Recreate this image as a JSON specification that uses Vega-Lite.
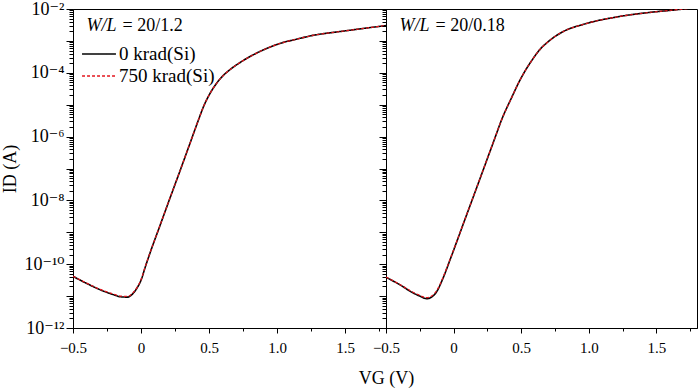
{
  "$schema": "https://vega.github.io/schema/vega-lite/v6.json",
  "padding": {"left": 1, "right": 2, "top": -1, "bottom": 0},
  "spacing": 0,
  "bounds": "flush",
  "config": {
    "font": "'Liberation Serif', 'Times New Roman', 'DejaVu Serif', serif",
    "view": {"stroke": "black", "strokeWidth": 1},
    "axis": {"domainColor": "black", "tickColor": "black", "labelColor": "black", "titleColor": "black", "labelFont": "'Liberation Serif', 'Times New Roman', 'DejaVu Serif', serif", "titleFont": "'Liberation Serif', 'Times New Roman', 'DejaVu Serif', serif", "grid": false, "labelFontSize": 15, "titleFontSize": 18, "titleFontWeight": "normal", "labelOverlap": false, "labelBound": false, "labelFlush": false},
    "legend": {"labelFont": "'Liberation Serif', 'Times New Roman', 'DejaVu Serif', serif", "labelFontSize": 19, "labelColor": "black"}
  },
  "resolve": {"scale": {"color": "shared", "strokeDash": "shared"}},
  "datasets": {
    "curves": [
      {"panel": "A", "series": "0 krad(Si)", "V": -0.5, "I": 4.17e-11},
      {"panel": "A", "series": "0 krad(Si)", "V": -0.4, "I": 2.5e-11},
      {"panel": "A", "series": "0 krad(Si)", "V": -0.3, "I": 1.58e-11},
      {"panel": "A", "series": "0 krad(Si)", "V": -0.2, "I": 1.1e-11},
      {"panel": "A", "series": "0 krad(Si)", "V": -0.15, "I": 9.5e-12},
      {"panel": "A", "series": "0 krad(Si)", "V": -0.1, "I": 9.3e-12},
      {"panel": "A", "series": "0 krad(Si)", "V": -0.06, "I": 1.2e-11},
      {"panel": "A", "series": "0 krad(Si)", "V": -0.03, "I": 1.78e-11},
      {"panel": "A", "series": "0 krad(Si)", "V": 0.0, "I": 3.16e-11},
      {"panel": "A", "series": "0 krad(Si)", "V": 0.03, "I": 7.9e-11},
      {"panel": "A", "series": "0 krad(Si)", "V": 0.06, "I": 1.9e-10},
      {"panel": "A", "series": "0 krad(Si)", "V": 0.14, "I": 1.66e-9},
      {"panel": "A", "series": "0 krad(Si)", "V": 0.21, "I": 1.1e-8},
      {"panel": "A", "series": "0 krad(Si)", "V": 0.28, "I": 7.1e-8},
      {"panel": "A", "series": "0 krad(Si)", "V": 0.36, "I": 6.2e-7},
      {"panel": "A", "series": "0 krad(Si)", "V": 0.42, "I": 3.16e-6},
      {"panel": "A", "series": "0 krad(Si)", "V": 0.46, "I": 8.9e-6},
      {"panel": "A", "series": "0 krad(Si)", "V": 0.5, "I": 2.0e-5},
      {"panel": "A", "series": "0 krad(Si)", "V": 0.55, "I": 4.37e-5},
      {"panel": "A", "series": "0 krad(Si)", "V": 0.6, "I": 7.9e-5},
      {"panel": "A", "series": "0 krad(Si)", "V": 0.66, "I": 1.32e-4},
      {"panel": "A", "series": "0 krad(Si)", "V": 0.72, "I": 2.0e-4},
      {"panel": "A", "series": "0 krad(Si)", "V": 0.78, "I": 2.88e-4},
      {"panel": "A", "series": "0 krad(Si)", "V": 0.9, "I": 5.25e-4},
      {"panel": "A", "series": "0 krad(Si)", "V": 1.02, "I": 8.3e-4},
      {"panel": "A", "series": "0 krad(Si)", "V": 1.15, "I": 1.15e-3},
      {"panel": "A", "series": "0 krad(Si)", "V": 1.27, "I": 1.51e-3},
      {"panel": "A", "series": "0 krad(Si)", "V": 1.4, "I": 1.82e-3},
      {"panel": "A", "series": "0 krad(Si)", "V": 1.51, "I": 2.09e-3},
      {"panel": "A", "series": "0 krad(Si)", "V": 1.65, "I": 2.51e-3},
      {"panel": "A", "series": "0 krad(Si)", "V": 1.8, "I": 3.02e-3},
      {"panel": "A", "series": "750 krad(Si)", "V": -0.5, "I": 4.2e-11},
      {"panel": "A", "series": "750 krad(Si)", "V": -0.4, "I": 2.55e-11},
      {"panel": "A", "series": "750 krad(Si)", "V": -0.3, "I": 1.62e-11},
      {"panel": "A", "series": "750 krad(Si)", "V": -0.2, "I": 1.15e-11},
      {"panel": "A", "series": "750 krad(Si)", "V": -0.15, "I": 1.0e-11},
      {"panel": "A", "series": "750 krad(Si)", "V": -0.1, "I": 9.8e-12},
      {"panel": "A", "series": "750 krad(Si)", "V": -0.06, "I": 1.25e-11},
      {"panel": "A", "series": "750 krad(Si)", "V": -0.03, "I": 1.85e-11},
      {"panel": "A", "series": "750 krad(Si)", "V": 0.0, "I": 3.25e-11},
      {"panel": "A", "series": "750 krad(Si)", "V": 0.03, "I": 8.1e-11},
      {"panel": "A", "series": "750 krad(Si)", "V": 0.06, "I": 1.93e-10},
      {"panel": "A", "series": "750 krad(Si)", "V": 0.14, "I": 1.68e-9},
      {"panel": "A", "series": "750 krad(Si)", "V": 0.21, "I": 1.11e-8},
      {"panel": "A", "series": "750 krad(Si)", "V": 0.28, "I": 7.15e-8},
      {"panel": "A", "series": "750 krad(Si)", "V": 0.36, "I": 6.2e-7},
      {"panel": "A", "series": "750 krad(Si)", "V": 0.42, "I": 3.16e-6},
      {"panel": "A", "series": "750 krad(Si)", "V": 0.46, "I": 8.9e-6},
      {"panel": "A", "series": "750 krad(Si)", "V": 0.5, "I": 2.0e-5},
      {"panel": "A", "series": "750 krad(Si)", "V": 0.55, "I": 4.37e-5},
      {"panel": "A", "series": "750 krad(Si)", "V": 0.6, "I": 7.9e-5},
      {"panel": "A", "series": "750 krad(Si)", "V": 0.66, "I": 1.32e-4},
      {"panel": "A", "series": "750 krad(Si)", "V": 0.72, "I": 2.0e-4},
      {"panel": "A", "series": "750 krad(Si)", "V": 0.78, "I": 2.88e-4},
      {"panel": "A", "series": "750 krad(Si)", "V": 0.9, "I": 5.25e-4},
      {"panel": "A", "series": "750 krad(Si)", "V": 1.02, "I": 8.3e-4},
      {"panel": "A", "series": "750 krad(Si)", "V": 1.15, "I": 1.15e-3},
      {"panel": "A", "series": "750 krad(Si)", "V": 1.27, "I": 1.51e-3},
      {"panel": "A", "series": "750 krad(Si)", "V": 1.4, "I": 1.82e-3},
      {"panel": "A", "series": "750 krad(Si)", "V": 1.51, "I": 2.09e-3},
      {"panel": "A", "series": "750 krad(Si)", "V": 1.65, "I": 2.51e-3},
      {"panel": "A", "series": "750 krad(Si)", "V": 1.8, "I": 3.02e-3},
      {"panel": "B", "series": "0 krad(Si)", "V": -0.5, "I": 3.9e-11},
      {"panel": "B", "series": "0 krad(Si)", "V": -0.4, "I": 2.3e-11},
      {"panel": "B", "series": "0 krad(Si)", "V": -0.3, "I": 1.26e-11},
      {"panel": "B", "series": "0 krad(Si)", "V": -0.25, "I": 1.0e-11},
      {"panel": "B", "series": "0 krad(Si)", "V": -0.2, "I": 8.3e-12},
      {"panel": "B", "series": "0 krad(Si)", "V": -0.16, "I": 9.5e-12},
      {"panel": "B", "series": "0 krad(Si)", "V": -0.12, "I": 1.5e-11},
      {"panel": "B", "series": "0 krad(Si)", "V": -0.08, "I": 3.5e-11},
      {"panel": "B", "series": "0 krad(Si)", "V": -0.02, "I": 1.62e-10},
      {"panel": "B", "series": "0 krad(Si)", "V": 0.08, "I": 2.29e-9},
      {"panel": "B", "series": "0 krad(Si)", "V": 0.15, "I": 1.45e-8},
      {"panel": "B", "series": "0 krad(Si)", "V": 0.22, "I": 9.3e-8},
      {"panel": "B", "series": "0 krad(Si)", "V": 0.3, "I": 7.8e-7},
      {"panel": "B", "series": "0 krad(Si)", "V": 0.36, "I": 3.8e-6},
      {"panel": "B", "series": "0 krad(Si)", "V": 0.43, "I": 1.7e-5},
      {"panel": "B", "series": "0 krad(Si)", "V": 0.48, "I": 4.8e-5},
      {"panel": "B", "series": "0 krad(Si)", "V": 0.53, "I": 1.17e-4},
      {"panel": "B", "series": "0 krad(Si)", "V": 0.58, "I": 2.5e-4},
      {"panel": "B", "series": "0 krad(Si)", "V": 0.63, "I": 4.9e-4},
      {"panel": "B", "series": "0 krad(Si)", "V": 0.7, "I": 9.5e-4},
      {"panel": "B", "series": "0 krad(Si)", "V": 0.8, "I": 1.86e-3},
      {"panel": "B", "series": "0 krad(Si)", "V": 0.97, "I": 3.4e-3},
      {"panel": "B", "series": "0 krad(Si)", "V": 1.22, "I": 5.75e-3},
      {"panel": "B", "series": "0 krad(Si)", "V": 1.46, "I": 7.9e-3},
      {"panel": "B", "series": "0 krad(Si)", "V": 1.63, "I": 9.3e-3},
      {"panel": "B", "series": "0 krad(Si)", "V": 1.8, "I": 1.12e-2},
      {"panel": "B", "series": "750 krad(Si)", "V": -0.5, "I": 3.95e-11},
      {"panel": "B", "series": "750 krad(Si)", "V": -0.4, "I": 2.35e-11},
      {"panel": "B", "series": "750 krad(Si)", "V": -0.3, "I": 1.32e-11},
      {"panel": "B", "series": "750 krad(Si)", "V": -0.25, "I": 1.06e-11},
      {"panel": "B", "series": "750 krad(Si)", "V": -0.2, "I": 8.9e-12},
      {"panel": "B", "series": "750 krad(Si)", "V": -0.16, "I": 1.02e-11},
      {"panel": "B", "series": "750 krad(Si)", "V": -0.12, "I": 1.6e-11},
      {"panel": "B", "series": "750 krad(Si)", "V": -0.08, "I": 3.7e-11},
      {"panel": "B", "series": "750 krad(Si)", "V": -0.02, "I": 1.68e-10},
      {"panel": "B", "series": "750 krad(Si)", "V": 0.08, "I": 2.32e-9},
      {"panel": "B", "series": "750 krad(Si)", "V": 0.15, "I": 1.47e-8},
      {"panel": "B", "series": "750 krad(Si)", "V": 0.22, "I": 9.4e-8},
      {"panel": "B", "series": "750 krad(Si)", "V": 0.3, "I": 7.9e-7},
      {"panel": "B", "series": "750 krad(Si)", "V": 0.36, "I": 3.8e-6},
      {"panel": "B", "series": "750 krad(Si)", "V": 0.43, "I": 1.7e-5},
      {"panel": "B", "series": "750 krad(Si)", "V": 0.48, "I": 4.8e-5},
      {"panel": "B", "series": "750 krad(Si)", "V": 0.53, "I": 1.17e-4},
      {"panel": "B", "series": "750 krad(Si)", "V": 0.58, "I": 2.5e-4},
      {"panel": "B", "series": "750 krad(Si)", "V": 0.63, "I": 4.9e-4},
      {"panel": "B", "series": "750 krad(Si)", "V": 0.7, "I": 9.5e-4},
      {"panel": "B", "series": "750 krad(Si)", "V": 0.8, "I": 1.86e-3},
      {"panel": "B", "series": "750 krad(Si)", "V": 0.97, "I": 3.4e-3},
      {"panel": "B", "series": "750 krad(Si)", "V": 1.22, "I": 5.75e-3},
      {"panel": "B", "series": "750 krad(Si)", "V": 1.46, "I": 7.9e-3},
      {"panel": "B", "series": "750 krad(Si)", "V": 1.63, "I": 9.3e-3},
      {"panel": "B", "series": "750 krad(Si)", "V": 1.8, "I": 1.12e-2}
    ]
  },
  "hconcat": [
    {
      "width": 313,
      "height": 319,
      "resolve": {"axis": {"x": "independent", "y": "independent"}},
      "layer": [
        {
          "data": {"name": "curves"},
          "transform": [{"filter": "datum.panel == 'A' && datum.series == '0 krad(Si)'"}],
          "mark": {"type": "line", "strokeWidth": 1.6, "clip": true, "interpolate": "monotone"},
          "encoding": {
            "x": {"field": "V", "type": "quantitative", "scale": {"domain": [-0.5, 1.8], "nice": false, "zero": false},
              "axis": {"orient": "bottom", "title": null, "tickCount": 5, "labelExpr": "datum.value == 0 ? '0' : format(datum.value, '.1f')", "tickSize": 5, "labelPadding": 7}},
            "y": {"field": "I", "type": "quantitative", "scale": {"type": "log", "domain": [1e-12, 1e-2], "nice": false},
              "axis": {"orient": "left", "title": "ID (A)", "titlePadding": 4, "labelFontSize": 18, "labelPadding": 2, "tickCount": 10,
                "labelExpr": "round(log(datum.value)/LN10) % 2 == 0 ? '10⁻' + replace(replace(replace(replace(replace(replace(toString(-round(log(datum.value)/LN10)), '1', '¹'), '0', '⁰'), '2', '²'), '4', '⁴'), '6', '⁶'), '8', '⁸') : ''",
                "tickSize": 7}},
            "color": {"field": "series", "type": "nominal", "scale": {"domain": ["0 krad(Si)", "750 krad(Si)"], "range": ["black", "#e3141c"]},
              "legend": {"title": null, "orient": "none", "legendX": 8, "legendY": 36, "symbolType": "stroke", "symbolSize": 1150, "symbolStrokeWidth": 1.5, "labelOffset": 2, "rowPadding": 3, "clipHeight": 18, "labelFontSize": 19}},
            "strokeDash": {"field": "series", "type": "nominal", "scale": {"domain": ["0 krad(Si)", "750 krad(Si)"], "range": [[1, 0], [3, 2]]},
              "legend": {"title": null, "orient": "none", "legendX": 8, "legendY": 36, "symbolType": "stroke", "symbolSize": 1150, "symbolStrokeWidth": 1.5, "labelOffset": 2, "rowPadding": 3, "clipHeight": 18, "labelFontSize": 19}}
          }
        },
        {
          "data": {"name": "curves"},
          "transform": [{"filter": "datum.panel == 'A' && datum.series == '750 krad(Si)'"}],
          "mark": {"type": "line", "strokeWidth": 1.2, "clip": true, "interpolate": "monotone"},
          "encoding": {
            "x": {"field": "V", "type": "quantitative",
              "axis": {"orient": "bottom", "title": null, "labels": false, "domain": false, "values": [-0.25, 0.25, 0.75, 1.25, 1.75], "tickSize": 3}},
            "y": {"field": "I", "type": "quantitative",
              "axis": {"orient": "left", "title": null, "labels": false, "domain": false, "tickSize": 4, "tickCount": 20}},
            "color": {"field": "series", "type": "nominal"},
            "strokeDash": {"field": "series", "type": "nominal"}
          }
        },
        {
          "data": {"values": [{}]},
          "mark": {"type": "text", "text": "W/L", "fontSize": 18, "fontStyle": "italic", "align": "left", "baseline": "alphabetic", "color": "black"},
          "encoding": {"x": {"datum": -0.4, "axis": null}, "y": {"datum": 0.0021, "axis": null}}
        },
        {
          "data": {"values": [{}]},
          "mark": {"type": "text", "text": "= 20/1.2", "fontSize": 18, "align": "left", "baseline": "alphabetic", "color": "black", "dx": 36},
          "encoding": {"x": {"datum": -0.4, "axis": null}, "y": {"datum": 0.0021, "axis": null}}
        }
      ]
    },
    {
      "width": 311,
      "height": 319,
      "resolve": {"axis": {"x": "independent", "y": "independent"}},
      "layer": [
        {
          "data": {"name": "curves"},
          "transform": [{"filter": "datum.panel == 'B' && datum.series == '0 krad(Si)'"}],
          "mark": {"type": "line", "strokeWidth": 1.6, "clip": true, "interpolate": "monotone"},
          "encoding": {
            "x": {"field": "V", "type": "quantitative", "scale": {"domain": [-0.5, 1.8], "nice": false, "zero": false},
              "axis": {"orient": "bottom", "title": "VG (V)", "titleX": 0, "titleAlign": "center", "titlePadding": 14, "tickCount": 5, "labelExpr": "datum.value == 0 ? '0' : format(datum.value, '.1f')", "tickSize": 5, "labelPadding": 7}},
            "y": {"field": "I", "type": "quantitative", "scale": {"type": "log", "domain": [1e-12, 1e-2], "nice": false},
              "axis": {"orient": "left", "title": null, "labels": false, "tickSize": 7, "tickCount": 10}},
            "color": {"field": "series", "type": "nominal", "legend": null},
            "strokeDash": {"field": "series", "type": "nominal", "legend": null}
          }
        },
        {
          "data": {"name": "curves"},
          "transform": [{"filter": "datum.panel == 'B' && datum.series == '750 krad(Si)'"}],
          "mark": {"type": "line", "strokeWidth": 1.2, "clip": true, "interpolate": "monotone"},
          "encoding": {
            "x": {"field": "V", "type": "quantitative",
              "axis": {"orient": "bottom", "title": null, "labels": false, "domain": false, "values": [-0.25, 0.25, 0.75, 1.25, 1.75], "tickSize": 3}},
            "y": {"field": "I", "type": "quantitative",
              "axis": {"orient": "left", "title": null, "labels": false, "domain": false, "tickSize": 4, "tickCount": 20}},
            "color": {"field": "series", "type": "nominal", "legend": null},
            "strokeDash": {"field": "series", "type": "nominal", "legend": null}
          }
        },
        {
          "data": {"values": [{}]},
          "mark": {"type": "text", "text": "W/L", "fontSize": 18, "fontStyle": "italic", "align": "left", "baseline": "alphabetic", "color": "black"},
          "encoding": {"x": {"datum": -0.4, "axis": null}, "y": {"datum": 0.0021, "axis": null}}
        },
        {
          "data": {"values": [{}]},
          "mark": {"type": "text", "text": "= 20/0.18", "fontSize": 18, "align": "left", "baseline": "alphabetic", "color": "black", "dx": 36},
          "encoding": {"x": {"datum": -0.4, "axis": null}, "y": {"datum": 0.0021, "axis": null}}
        }
      ]
    }
  ]
}
